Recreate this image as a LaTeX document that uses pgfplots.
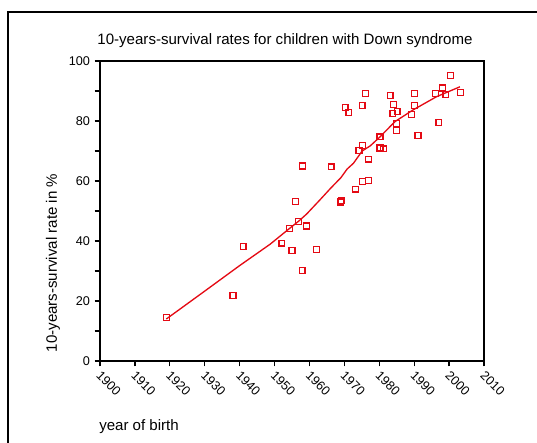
\documentclass[border=0pt]{standalone}
\usepackage{pgfplots}
\pgfplotsset{compat=1.18}
\usepackage{fontspec}
\setmainfont{Liberation Sans}
\definecolor{myred}{RGB}{228,10,20}
\begin{document}
\begin{tikzpicture}
\begin{axis}[
  at={(0,0)}, anchor=south west,
  scale only axis, width=288pt, height=225pt,
  xmin=1900, xmax=2010, ymin=0, ymax=100,
  xtick={1900,1910,...,2010},
  ytick={0,20,...,100},
  minor ytick={10,30,...,90},
  tick align=outside, tick pos=left,
  major tick length=4pt, minor tick length=4pt,
  axis line style={line width=1pt, black},
  major tick style={line width=0.9pt, black},
  minor tick style={line width=0.9pt, black},
  /pgf/number format/assume math mode=true,
  /pgf/number format/1000 sep={},
  tick label style={font=\fontsize{9.5}{11}\selectfont},
  xticklabel style={rotate=-45, anchor=north west, inner sep=1pt, xshift=2pt},
  clip=false,
]
\addplot[myred, line width=1pt] coordinates {
(1919,14.0) (1930,23.3) (1940,31.8) (1948.7,38.9) (1954.2,44.1) (1957,46.7)
(1959.2,49.0) (1963,53.7) (1966,57.5) (1969,61.1) (1970.8,64.0) (1972.6,65.9)
(1975.1,70.0) (1977.4,71.7) (1980.2,74.7) (1984.5,79.8) (1989.7,83.7)
(1996.4,88.1) (2003.1,91.4)
};
\addplot[only marks, mark=square, mark size=2.2pt, myred, mark options={line width=0.9pt}] coordinates {
(1919.0,14.4) (1938.1,21.9) (1941.0,38.2) (1952.1,39.3) (1954.2,44.2)
(1955.0,36.8) (1956.0,53.1) (1956.9,46.4) (1957.9,30.1) (1958.0,65.0)
(1959.2,45.0) (1962.1,37.1) (1966.2,64.7) (1969.0,53.0) (1969.1,53.6)
(1970.2,84.4) (1971.3,82.9) (1973.2,57.3) (1974.2,70.2) (1975.1,85.1)
(1975.2,71.8) (1975.2,59.9) (1976.1,89.2) (1977.0,60.2) (1977.0,67.3)
(1980.2,74.7) (1980.2,71.0) (1981.3,70.7) (1983.1,88.4) (1984.0,85.4)
(1983.9,82.6) (1985.1,83.2) (1985.0,79.2) (1985.0,76.9) (1989.2,82.2)
(1990.1,85.1) (1990.1,89.1) (1991.1,75.1) (1996.2,89.1) (1997.1,79.6)
(1998.2,91.0) (1999.1,88.8) (2000.4,95.1) (2003.2,89.6)
};
\end{axis}
\node[font=\fontsize{11.3}{13}\selectfont] at (138.75pt,240pt) {10-years-survival rates for children with Down syndrome};
\node[rotate=90, font=\fontsize{11.3}{13}\selectfont] at (-35.25pt,73.5pt) {10-years-survival rate in \%};
\node[anchor=west, inner sep=0pt, font=\fontsize{11.3}{13}\selectfont] at (-0.75pt,-49.5pt) {year of birth};
\draw[line width=1.2pt] (-69pt,-80pt) -- (-69pt,261.75pt) -- (350pt,261.75pt);
\pgfresetboundingbox
\useasboundingbox (-75pt,-61.5pt) rectangle (327.75pt,270.75pt);
\end{tikzpicture}
\end{document}
